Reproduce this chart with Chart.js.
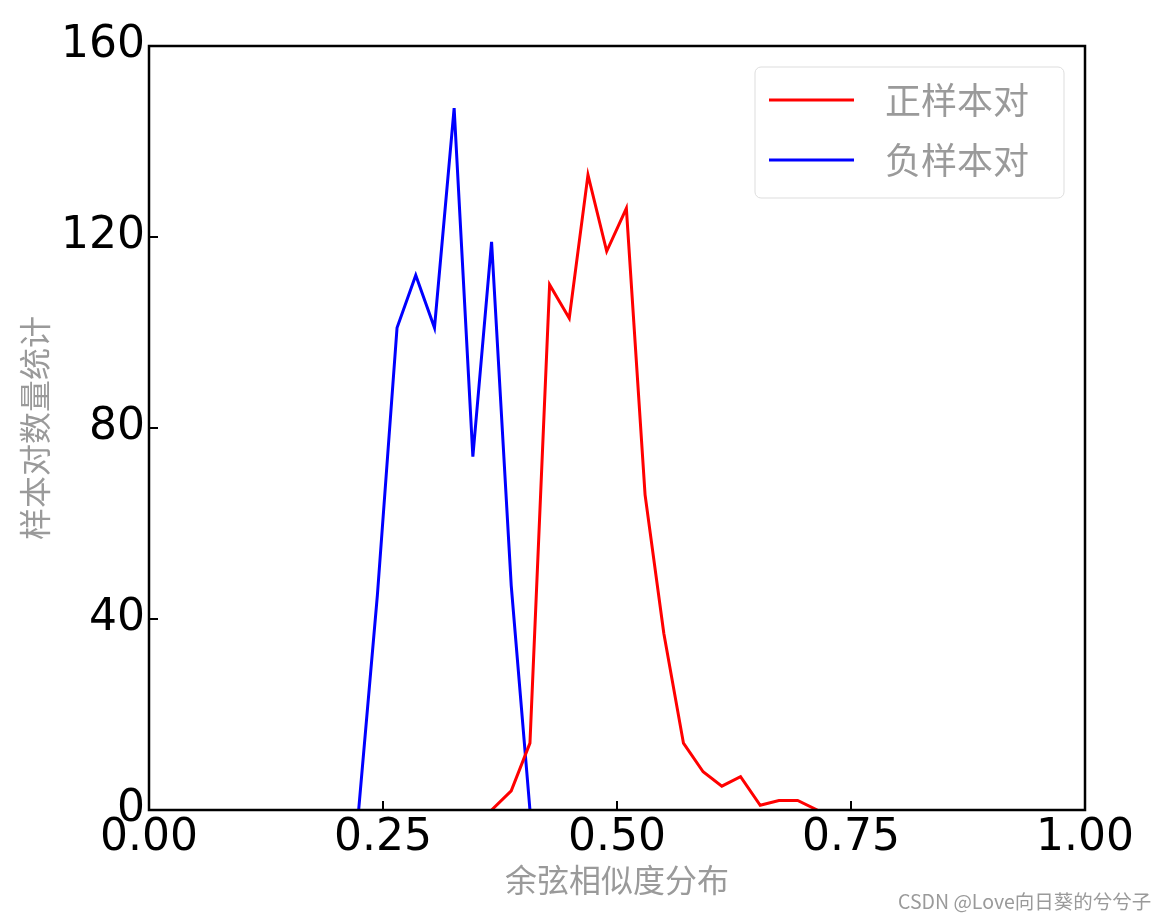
<!DOCTYPE html>
<html>
<head>
<meta charset="utf-8">
<script src="https://cdn.jsdelivr.net/npm/chart.js@4.4.0/dist/chart.umd.min.js"></script>
<style>
  body { margin: 0; background: #fff; }
  #wrap { position: relative; width: 1165px; height: 920px; }
  #mark {
    position: absolute; left: 898px; top: 886px;
    font: 19.5px "Noto Sans CJK SC", "DejaVu Sans", sans-serif;
    color: #9a9a9a; white-space: nowrap;
  }
</style>
</head>
<body>
<div id="wrap">
  <canvas id="distChart" width="1165" height="920"></canvas>
  <div id="mark">CSDN @Love向日葵的兮兮子</div>
</div>
<script>
// bin centres
const xValues = [0.224, 0.244, 0.265, 0.285, 0.305, 0.326, 0.346, 0.366, 0.387, 0.407,
                 0.428, 0.449, 0.469, 0.489, 0.510, 0.530, 0.550, 0.571, 0.592, 0.612,
                 0.632, 0.653, 0.673, 0.693, 0.714];
const blueCounts = [0, 45, 101, 112, 101, 147, 74, 119, 47, 0,
                    null, null, null, null, null, null, null, null, null, null,
                    null, null, null, null, null];
const redCounts = [null, null, null, null, null, null, null, 0, 4, 14,
                   110, 103, 133, 117, 126, 66, 37, 14, 8, 5,
                   7, 1, 2, 2, 0];
const seriesLabels = ['正样本对', '负样本对'];
const xTicks = [0, 0.25, 0.5, 0.75, 1.0];
const yTicks = [0, 40, 80, 120, 160];
const xTitle = '余弦相似度分布';
const yTitle = '样本对数量统计';

const toPoints = arr => xValues.map((x, i) => ({ x: x, y: arr[i] }));

const tickFont = { family: 'DejaVu Sans', size: 44 };

// frame, inward ticks and legend, drawn like matplotlib
const framePlugin = {
  id: 'frame',
  afterDraw(chart) {
    const ctx = chart.ctx;
    const a = chart.chartArea;
    const xs = chart.scales.x, ys = chart.scales.y;
    ctx.save();
    ctx.strokeStyle = '#000';
    ctx.lineWidth = 2;
    xTicks.forEach(v => {
      const px = xs.getPixelForValue(v);
      ctx.beginPath(); ctx.moveTo(px, a.bottom); ctx.lineTo(px, a.bottom - 9); ctx.stroke();
    });
    yTicks.forEach(v => {
      const py = ys.getPixelForValue(v);
      ctx.beginPath(); ctx.moveTo(a.left, py); ctx.lineTo(a.left + 9, py); ctx.stroke();
    });
    ctx.lineWidth = 2.5;
    ctx.strokeRect(a.left, a.top, a.right - a.left, a.bottom - a.top);

    // legend
    const bx = a.right - 330, by = a.top + 21, bw = 309, bh = 131;
    ctx.fillStyle = 'rgba(255,255,255,0.85)';
    ctx.strokeStyle = '#dddddd';
    ctx.lineWidth = 1;
    ctx.beginPath();
    ctx.roundRect(bx, by, bw, bh, 6);
    ctx.fill(); ctx.stroke();
    chart.data.datasets.forEach((ds, i) => {
      const ly = by + 33 + i * 60;
      ctx.strokeStyle = ds.borderColor;
      ctx.lineWidth = 3;
      ctx.beginPath(); ctx.moveTo(bx + 14, ly); ctx.lineTo(bx + 99, ly); ctx.stroke();
      ctx.fillStyle = '#9a9a9a';
      ctx.font = '36px "Noto Sans CJK SC"';
      ctx.textBaseline = 'middle';
      ctx.fillText(ds.label, bx + 130, ly);
    });
    ctx.restore();
  }
};

new Chart(document.getElementById('distChart'), {
  type: 'line',
  data: {
    datasets: [
      { label: seriesLabels[0], data: toPoints(redCounts), borderColor: '#ff0000',
        borderWidth: 3, pointRadius: 0, tension: 0, fill: false },
      { label: seriesLabels[1], data: toPoints(blueCounts), borderColor: '#0000ff',
        borderWidth: 3, pointRadius: 0, tension: 0, fill: false }
    ]
  },
  options: {
    responsive: false,
    devicePixelRatio: 1,
    animation: false,
    layout: { padding: { left: 0, top: 46, right: 80, bottom: 0 } },
    plugins: { legend: { display: false }, tooltip: { enabled: false } },
    scales: {
      x: {
        type: 'linear', min: 0, max: 1,
        grid: { display: false, drawTicks: false },
        border: { display: false },
        afterBuildTicks: s => { s.ticks = xTicks.map(v => ({ value: v })); },
        ticks: { font: tickFont, color: '#000', padding: 2, maxRotation: 0,
                 callback: v => Number(v).toFixed(2) },
        title: { display: true, text: xTitle, color: '#9a9a9a',
                 font: { family: 'Noto Sans CJK SC', size: 32 }, padding: { top: 0, bottom: 21 } },
        afterFit: s => { s.height = 110; }
      },
      y: {
        min: 0, max: 160,
        grid: { display: false, drawTicks: false },
        border: { display: false },
        afterBuildTicks: s => { s.ticks = yTicks.map(v => ({ value: v })); },
        ticks: { font: tickFont, color: '#000', padding: 4 },
        title: { display: true, text: yTitle, color: '#9a9a9a',
                 font: { family: 'Noto Sans CJK SC', size: 32 }, padding: { top: 16, bottom: 0 } },
        afterFit: s => { s.width = 149; }
      }
    }
  },
  plugins: [framePlugin]
});
</script>
</body>
</html>
